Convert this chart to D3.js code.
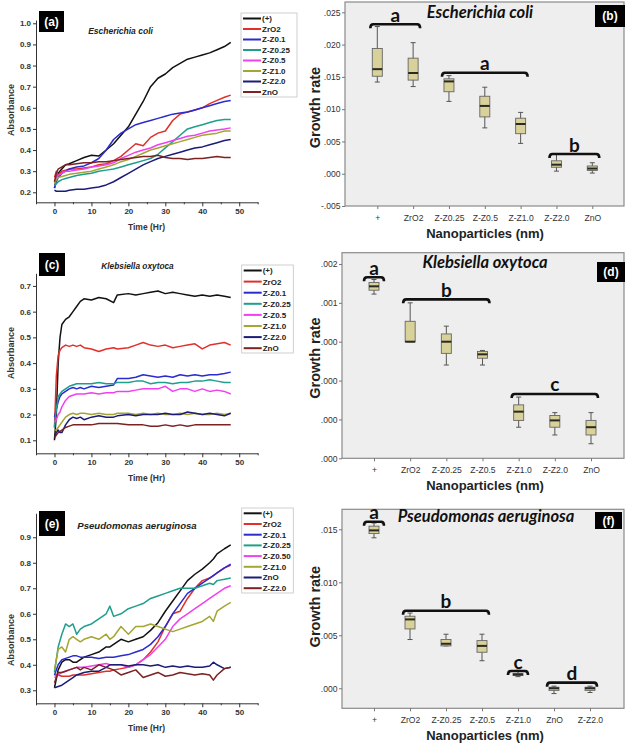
<!DOCTYPE html>
<html>
<head>
<meta charset="utf-8">
<script src="https://cdn.jsdelivr.net/npm/d3@7/dist/d3.min.js"></script>
<style>
html,body{margin:0;padding:0;background:#fff;}
svg{display:block;}
</style>
</head>
<body>
<svg id="chart" width="625" height="744"></svg>
<script>
// ================= DATA =================
// --- growth curves (left panels) ---
const lineNamesAC = ["(+)","ZrO2","Z-Z0.1","Z-Z0.25","Z-Z0.5","Z-Z1.0","Z-Z2.0","ZnO"];
const lineNamesE  = ["(+)","ZrO2","Z-Z0.1","Z-Z0.25","Z-Z0.50","Z-Z1.0","ZnO","Z-Z2.0"];
const timeTicks = [0,10,20,30,40,50];
const timeMinorTicks = [-5,5,15,25,35,45,55];

// (a) Escherichia coli
const timesA = [0,0.5,1,2,3,4,6,8,10,12,14,16,18,20,22,24,26,28,30,32,34,36,38,40,42,44,46,47.7];
const posA  = [0.22,0.27,0.29,0.31,0.33,0.335,0.35,0.365,0.375,0.372,0.40,0.43,0.47,0.51,0.57,0.63,0.70,0.74,0.76,0.79,0.81,0.83,0.84,0.85,0.86,0.875,0.89,0.91];
const zro2A = [0.27,0.30,0.28,0.30,0.305,0.31,0.31,0.315,0.32,0.33,0.335,0.35,0.37,0.40,0.43,0.42,0.46,0.48,0.49,0.54,0.57,0.58,0.59,0.60,0.62,0.635,0.65,0.66];
const z01A  = [0.22,0.25,0.27,0.29,0.30,0.31,0.32,0.325,0.34,0.36,0.40,0.45,0.48,0.50,0.52,0.53,0.54,0.55,0.56,0.57,0.575,0.58,0.59,0.60,0.61,0.62,0.63,0.635];
const z025A = [0.23,0.24,0.25,0.26,0.265,0.27,0.28,0.285,0.29,0.30,0.305,0.31,0.32,0.33,0.34,0.35,0.36,0.38,0.41,0.44,0.47,0.50,0.51,0.52,0.53,0.54,0.545,0.545];
const z05A  = [0.25,0.27,0.28,0.29,0.30,0.30,0.305,0.31,0.32,0.325,0.33,0.34,0.36,0.375,0.39,0.40,0.41,0.425,0.435,0.445,0.455,0.465,0.47,0.48,0.49,0.495,0.50,0.505];
const z10A  = [0.24,0.26,0.27,0.275,0.28,0.285,0.29,0.295,0.30,0.31,0.32,0.33,0.345,0.355,0.37,0.385,0.40,0.41,0.42,0.43,0.44,0.45,0.46,0.47,0.475,0.48,0.49,0.49];
const z20A  = [0.21,0.205,0.205,0.205,0.205,0.21,0.215,0.215,0.22,0.225,0.235,0.25,0.27,0.29,0.31,0.33,0.345,0.36,0.37,0.38,0.39,0.40,0.41,0.415,0.425,0.435,0.445,0.45];
const znoA  = [0.25,0.29,0.31,0.32,0.33,0.33,0.335,0.34,0.34,0.345,0.345,0.35,0.355,0.36,0.365,0.37,0.37,0.375,0.365,0.36,0.36,0.355,0.36,0.36,0.365,0.37,0.365,0.365];
const absTicksA = [0.2,0.3,0.4,0.5,0.6,0.7,0.8,0.9,1.0];

// (c) Klebsiella oxytoca
const timesC = [0,0.5,1,1.5,2,3,4,5,6,7,8,10,12,14,16,17,20,22,24,26,28,30,32,34,36,38,40,42,44,46,47.7];
const posC  = [0.10,0.20,0.40,0.50,0.55,0.57,0.58,0.60,0.62,0.64,0.65,0.645,0.655,0.65,0.635,0.665,0.67,0.665,0.67,0.675,0.68,0.67,0.675,0.67,0.665,0.66,0.665,0.66,0.665,0.66,0.655];
const zro2C = [0.15,0.35,0.43,0.45,0.46,0.47,0.465,0.47,0.465,0.47,0.46,0.455,0.445,0.455,0.46,0.455,0.46,0.47,0.48,0.47,0.465,0.47,0.46,0.465,0.47,0.475,0.455,0.47,0.475,0.48,0.47];
const z01C  = [0.19,0.22,0.25,0.27,0.28,0.29,0.30,0.305,0.30,0.305,0.30,0.31,0.305,0.31,0.315,0.34,0.34,0.345,0.355,0.35,0.345,0.35,0.345,0.355,0.35,0.355,0.35,0.355,0.355,0.36,0.365];
const z025C = [0.15,0.22,0.27,0.28,0.29,0.30,0.31,0.315,0.32,0.32,0.32,0.32,0.325,0.32,0.32,0.325,0.325,0.33,0.33,0.32,0.325,0.325,0.32,0.325,0.325,0.33,0.33,0.335,0.33,0.325,0.325];
const z05C  = [0.17,0.18,0.20,0.21,0.23,0.255,0.27,0.275,0.28,0.28,0.28,0.285,0.28,0.285,0.285,0.29,0.29,0.295,0.30,0.30,0.30,0.31,0.29,0.30,0.30,0.29,0.30,0.29,0.295,0.29,0.28];
const z10C  = [0.14,0.14,0.15,0.16,0.17,0.19,0.20,0.205,0.20,0.205,0.205,0.20,0.205,0.20,0.20,0.205,0.205,0.20,0.205,0.20,0.205,0.20,0.20,0.205,0.20,0.205,0.20,0.20,0.205,0.20,0.205];
const z20C  = [0.11,0.13,0.14,0.13,0.13,0.16,0.18,0.19,0.185,0.19,0.18,0.19,0.195,0.19,0.19,0.195,0.20,0.195,0.20,0.20,0.20,0.205,0.20,0.20,0.21,0.205,0.20,0.205,0.20,0.195,0.205];
const znoC  = [0.11,0.12,0.13,0.135,0.14,0.15,0.155,0.16,0.16,0.16,0.16,0.16,0.165,0.165,0.165,0.165,0.16,0.16,0.16,0.155,0.155,0.16,0.155,0.16,0.155,0.16,0.16,0.16,0.16,0.16,0.16];
const absTicksC = [0.1,0.2,0.3,0.4,0.5,0.6,0.7];

// (e) Pseudomonas aeruginosa
const timesE = [0,1,2,3,4,5,6,7,8,10,12,14,15,16,18,20,22,24,26,28,30,32,34,36,38,40,42,43,44,46,47.7];
const posE  = [0.31,0.38,0.41,0.42,0.42,0.41,0.41,0.42,0.43,0.44,0.45,0.47,0.47,0.48,0.50,0.49,0.50,0.51,0.535,0.565,0.61,0.65,0.69,0.73,0.755,0.775,0.80,0.815,0.835,0.855,0.87];
const zro2E = [0.36,0.36,0.355,0.355,0.355,0.36,0.36,0.36,0.36,0.365,0.37,0.375,0.375,0.38,0.385,0.39,0.40,0.42,0.45,0.49,0.55,0.60,0.61,0.66,0.70,0.73,0.74,0.75,0.76,0.78,0.79];
const z01E  = [0.36,0.40,0.42,0.425,0.43,0.435,0.435,0.43,0.43,0.43,0.425,0.43,0.43,0.43,0.435,0.44,0.45,0.46,0.48,0.51,0.55,0.60,0.64,0.68,0.70,0.72,0.74,0.75,0.76,0.78,0.795];
const z025E = [0.37,0.47,0.52,0.56,0.55,0.56,0.52,0.54,0.55,0.56,0.58,0.60,0.63,0.59,0.60,0.62,0.63,0.64,0.66,0.67,0.68,0.69,0.70,0.70,0.70,0.71,0.72,0.715,0.73,0.735,0.74];
const z05E  = [0.35,0.36,0.37,0.375,0.38,0.385,0.39,0.39,0.39,0.395,0.40,0.405,0.40,0.40,0.40,0.39,0.40,0.42,0.44,0.47,0.50,0.55,0.58,0.60,0.62,0.64,0.66,0.67,0.68,0.70,0.71];
const z10E  = [0.38,0.46,0.47,0.45,0.50,0.51,0.50,0.49,0.50,0.51,0.50,0.52,0.50,0.51,0.55,0.52,0.55,0.55,0.56,0.55,0.54,0.53,0.54,0.55,0.56,0.57,0.59,0.57,0.61,0.63,0.645];
const znoE  = [0.31,0.315,0.32,0.33,0.34,0.35,0.36,0.365,0.37,0.375,0.375,0.39,0.40,0.40,0.40,0.395,0.40,0.40,0.395,0.40,0.39,0.395,0.39,0.395,0.39,0.39,0.395,0.41,0.40,0.385,0.39];
const z20E  = [0.33,0.37,0.37,0.375,0.38,0.385,0.39,0.38,0.39,0.38,0.40,0.39,0.385,0.38,0.36,0.37,0.38,0.35,0.36,0.37,0.355,0.36,0.37,0.365,0.36,0.365,0.36,0.34,0.36,0.385,0.39];
const absTicksE = [0.3,0.4,0.5,0.6,0.7,0.8,0.9];

// --- growth-rate box plots (right panels): [min, q1, median, q3, max] ---
const catsB = ["+","ZrO2","Z-Z0.25","Z-Z0.5","Z-Z1.0","Z-Z2.0","ZnO"];
const boxB = [
  [0.0142,0.0151,0.0162,0.0194,0.0228],
  [0.0135,0.0145,0.0156,0.0179,0.0203],
  [0.0112,0.0127,0.0143,0.0147,0.0152],
  [0.0071,0.0088,0.0105,0.0120,0.0134],
  [0.0047,0.0062,0.0077,0.0086,0.0095],
  [0.0004,0.0010,0.0014,0.0020,0.0030],
  [0.0001,0.0005,0.0008,0.0012,0.0017]
];
const rateTicksB = [-0.005,0,0.005,0.010,0.015,0.020,0.025];
const rateLabelsB = ["-.005",".000",".005",".010",".015",".020",".025"];
const groupsB = [
  {letter:"a", from:"+", to:"ZrO2", level:0.02315},
  {letter:"a", from:"Z-Z0.25", to:"Z-Z1.0", level:0.01565},
  {letter:"b", from:"Z-Z2.0", to:"ZnO", level:0.00305}
];

const catsD = ["+","ZrO2","Z-Z0.25","Z-Z0.5","Z-Z1.0","Z-Z2.0","ZnO"];
const boxD = [
  [0.00169,0.00173,0.00177,0.00181,0.00184],
  [0.00120,0.00120,0.00120,0.00141,0.00160],
  [0.00096,0.00108,0.00120,0.00128,0.00136],
  [0.00096,0.00103,0.00107,0.00110,0.00111],
  [0.00032,0.00039,0.00048,0.00055,0.00063],
  [0.00024,0.00032,0.00039,0.00044,0.00047],
  [0.00015,0.00024,0.00032,0.00039,0.00047]
];
const rateTicksD = [0.0020,0.0016,0.0012,0.0008,0.0004,0.0000];
const rateLabelsD = [".002",".001",".000",".000",".000",".000"];
const groupsD = [
  {letter:"a", from:"+", to:"+", level:0.001863},
  {letter:"b", from:"ZrO2", to:"Z-Z0.5", level:0.001636},
  {letter:"c", from:"Z-Z1.0", to:"ZnO", level:0.000662}
];

const catsF = ["+","ZrO2","Z-Z0.25","Z-Z0.5","Z-Z1.0","ZnO","Z-Z2.0"];
const boxF = [
  [0.0142,0.0146,0.0149,0.0153,0.0156],
  [0.0046,0.0056,0.0065,0.0068,0.0071],
  [0.0040,0.0040,0.0042,0.0046,0.0051],
  [0.0026,0.0034,0.0040,0.0045,0.0051],
  [0.0011,0.0012,0.0013,0.0014,0.0017],
  [-0.0005,-0.0002,0.0000,0.0001,0.0002],
  [-0.0004,-0.0002,0.0000,0.0001,0.0002]
];
const rateTicksF = [0,0.005,0.010,0.015];
const rateLabelsF = [".000",".005",".010",".015"];
const groupsF = [
  {letter:"a", from:"+", to:"+", level:0.01572},
  {letter:"b", from:"ZrO2", to:"Z-Z0.5", level:0.00732},
  {letter:"c", from:"Z-Z1.0", to:"Z-Z1.0", level:0.00163},
  {letter:"d", from:"ZnO", to:"Z-Z2.0", level:0.00053}
];

// ================= STYLE =================
const lineColors = ["#111111","#e0302a","#2b2bd0","#1f9e8c","#f040f0","#a5a532","#1c1c78","#7b2222"];
const FONT = "'Liberation Sans', Arial, sans-serif";
const CAL = "Lato, 'Liberation Sans', sans-serif";
const svg = d3.select("#chart");

// ================= LINE PANELS =================
function drawLinePanel(p) {
  const g = svg.append("g");
  const x = d3.scaleLinear().domain([-5, 55]).range([36, 257.7]);
  const y = d3.scaleLinear().domain(p.yDomain).range(p.yRange);
  const line = d3.line().x((d, i) => x(p.times[i])).y(d => y(d)).curve(d3.curveLinear);

  p.series.forEach((s, i) => {
    g.append("path").attr("d", line(s)).attr("fill", "none")
      .attr("stroke", lineColors[i]).attr("stroke-width", 1.5)
      .attr("stroke-linejoin", "round");
  });

  const ya = g.append("g").attr("transform", "translate(36,0)")
    .call(d3.axisLeft(y).tickValues(p.yTicks).tickFormat(d3.format(".1f"))
      .tickSize(3).tickSizeOuter(0).tickPadding(2));
  const xa = g.append("g").attr("transform", `translate(0,${p.yRange[0]})`)
    .call(d3.axisBottom(x).tickValues(timeTicks).tickFormat(d3.format("d"))
      .tickSize(4).tickSizeOuter(0).tickPadding(2.5));
  g.append("g").attr("transform", `translate(0,${p.yRange[0]})`)
    .call(d3.axisBottom(x).tickValues(timeMinorTicks).tickFormat("").tickSize(2).tickSizeOuter(0))
    .select(".domain").remove();
  [ya, xa].forEach(a => {
    a.attr("font-family", FONT).attr("font-size", 8).attr("font-weight", "bold");
    a.selectAll("text").attr("fill", "#333");
  });
  g.selectAll(".domain, .tick line").attr("stroke", "#333").attr("stroke-width", 1);

  // axis titles
  g.append("text").attr("x", 146.5).attr("y", p.yRange[0] + 27.2)
    .attr("text-anchor", "middle").attr("font-family", FONT).attr("font-size", 8.5)
    .attr("font-weight", "bold").attr("fill", "#333").text("Time (Hr)");
  g.append("text").attr("transform", `translate(14,${p.absY}) rotate(-90)`)
    .attr("text-anchor", "middle").attr("font-family", FONT).attr("font-size", 9)
    .attr("font-weight", "bold").attr("fill", "#333").text("Absorbance");

  // panel label
  const lb = p.labelBox;
  g.append("rect").attr("x", lb[0]).attr("y", lb[1]).attr("width", lb[2]).attr("height", lb[3]).attr("fill", "#000");
  g.append("text").attr("x", lb[0] + lb[2] / 2).attr("y", lb[1] + lb[3] / 2 + 4.3)
    .attr("text-anchor", "middle").attr("font-family", FONT).attr("font-size", 12)
    .attr("font-weight", "bold").attr("fill", "#fff").text(p.label);

  // species
  g.append("text").attr("x", p.spX).attr("y", p.spY).attr("text-anchor", "middle")
    .attr("font-family", FONT).attr("font-size", p.spSize).attr("font-style", "italic")
    .attr("font-weight", "bold").attr("fill", "#222").text(p.species);

  // legend
  const L = p.legend;
  const lg = g.append("g");
  lg.append("rect").attr("x", L.x).attr("y", L.y).attr("width", L.w).attr("height", L.h)
    .attr("fill", "#fff").attr("stroke", "#c4c4c4").attr("stroke-width", 0.8);
  p.names.forEach((n, i) => {
    const yy = L.y0 + i * L.dy;
    lg.append("line").attr("x1", L.x + 2).attr("x2", L.x + 20).attr("y1", yy).attr("y2", yy)
      .attr("stroke", lineColors[i]).attr("stroke-width", 2);
    lg.append("text").attr("x", L.x + 21).attr("y", yy + 2.9).attr("font-family", FONT)
      .attr("font-size", 8).attr("font-weight", "bold").attr("fill", "#222").text(n);
  });
}

drawLinePanel({
  times: timesA, series: [posA, zro2A, z01A, z025A, z05A, z10A, z20A, znoA], names: lineNamesAC,
  yDomain: [0.1527, 1.0156], yRange: [202.3, 20], yTicks: absTicksA,
  label: "(a)", labelBox: [39, 11, 25, 21], species: "Escherichia coli", spX: 120.5, spY: 34, spSize: 8.5,
  legend: {x: 241, y: 13, w: 56, h: 84, y0: 18.5, dy: 10.5}, absY: 110
});
drawLinePanel({
  times: timesC, series: [posC, zro2C, z01C, z025C, z05C, z10C, z20C, znoC], names: lineNamesAC,
  yDomain: [0.0495, 0.749], yRange: [453.3, 273.3], yTicks: absTicksC,
  label: "(c)", labelBox: [39, 253, 26, 23], species: "Klebsiella oxytoca", spX: 137.5, spY: 269, spSize: 8.3,
  legend: {x: 241.7, y: 265, w: 51.6, h: 88, y0: 270.5, dy: 11.1}, absY: 353
});
drawLinePanel({
  times: timesE, series: [posE, zro2E, z01E, z025E, z05E, z10E, znoE, z20E], names: lineNamesE,
  yDomain: [0.249, 0.994], yRange: [703.3, 513.3], yTicks: absTicksE,
  label: "(e)", labelBox: [39, 511, 26, 25], species: "Pseudomonas aeruginosa", spX: 137, spY: 529, spSize: 9.6,
  legend: {x: 241.7, y: 508, w: 51.6, h: 85, y0: 513.3, dy: 10.7}, absY: 640
});

// ================= BOX PANELS =================
function drawBoxPanel(p) {
  const g = svg.append("g");
  const x = d3.scalePoint().domain(p.cats).range(p.xRange);
  const y = d3.scaleLinear().domain(p.yDomain).range(p.yRange);
  const top = p.yRange[1], bot = p.yRange[0];

  g.append("rect").attr("x", p.left).attr("y", top).attr("width", 624 - p.left).attr("height", bot - top)
    .attr("fill", "#eeeeee").attr("stroke", "#8a8a8a").attr("stroke-width", 1.2);

  const ya = g.append("g").attr("transform", `translate(${p.left},0)`)
    .call(d3.axisLeft(y).tickValues(p.yTicks).tickFormat(d => p.yTickLabels[p.yTicks.indexOf(d)])
      .tickSize(3).tickSizeOuter(0).tickPadding(1.5));
  ya.select(".domain").remove();
  const xa = g.append("g").attr("transform", `translate(0,${bot})`)
    .call(d3.axisBottom(x).tickSize(3).tickSizeOuter(0).tickPadding(5.5));
  xa.select(".domain").remove();
  [ya, xa].forEach(a => {
    a.attr("font-family", FONT).attr("font-size", 8.6);
    a.selectAll("text").attr("fill", "#333");
    a.selectAll(".tick line").attr("stroke", "#777");
  });

  // boxes
  const bw = 10;
  p.boxes.forEach((b, i) => {
    const cx = x(p.cats[i]);
    g.append("line").attr("x1", cx).attr("x2", cx).attr("y1", y(b[0])).attr("y2", y(b[4]))
      .attr("stroke", "#555").attr("stroke-width", 1);
    [b[0], b[4]].forEach(v => {
      g.append("line").attr("x1", cx - 2.5).attr("x2", cx + 2.5).attr("y1", y(v)).attr("y2", y(v))
        .attr("stroke", "#555").attr("stroke-width", 1);
    });
    g.append("rect").attr("x", cx - bw / 2).attr("y", y(b[3])).attr("width", bw)
      .attr("height", Math.max(1, y(b[1]) - y(b[3])))
      .attr("fill", "#d8d19a").attr("stroke", "#666").attr("stroke-width", 0.9);
    g.append("line").attr("x1", cx - bw / 2).attr("x2", cx + bw / 2).attr("y1", y(b[2])).attr("y2", y(b[2]))
      .attr("stroke", "#2a2a22").attr("stroke-width", 2);
  });

  // significance brackets
  p.groups.forEach(gr => {
    const pad = gr.from === gr.to ? 10 : 7;
    const x1 = x(gr.from) - pad, x2 = x(gr.to) + pad, yy = y(gr.level);
    g.append("path")
      .attr("d", `M${x1},${yy + 4} Q${x1},${yy} ${x1 + 3},${yy} L${x2 - 3},${yy} Q${x2},${yy} ${x2},${yy + 4}`)
      .attr("fill", "none").attr("stroke", "#111").attr("stroke-width", 2.6);
    g.append("text").attr("x", (x1 + x2) / 2).attr("y", yy - 2.5).attr("text-anchor", "middle")
      .attr("font-family", CAL).attr("font-size", 19).attr("font-weight", "bold").attr("fill", "#111")
      .text(gr.letter);
  });

  // title
  g.append("text").attr("x", p.titleX).attr("y", p.titleY).attr("text-anchor", "middle")
    .attr("font-family", CAL).attr("font-size", 16.5).attr("font-style", "italic").attr("font-weight", "bold")
    .attr("fill", "#111").text(p.title);

  // label box
  const lb = p.labelBox;
  g.append("rect").attr("x", lb[0]).attr("y", lb[1]).attr("width", lb[2]).attr("height", lb[3]).attr("fill", "#000");
  g.append("text").attr("x", lb[0] + lb[2] / 2).attr("y", lb[1] + lb[3] / 2 + 4.3)
    .attr("text-anchor", "middle").attr("font-family", FONT).attr("font-size", 12)
    .attr("font-weight", "bold").attr("fill", "#fff").text(p.label);

  // axis titles
  g.append("text").attr("x", 485).attr("y", p.xTitleY).attr("text-anchor", "middle")
    .attr("font-family", FONT).attr("font-size", 13).attr("font-weight", "bold").attr("fill", "#222")
    .text("Nanoparticles (nm)");
  g.append("text").attr("transform", `translate(320,${p.growthY}) rotate(-90)`).attr("text-anchor", "middle")
    .attr("font-family", FONT).attr("font-size", 14.5).attr("font-weight", "bold").attr("fill", "#222")
    .text("Growth rate");
}

drawBoxPanel({
  cats: catsB, boxes: boxB, groups: groupsB, left: 345, xRange: [377.3, 592.3],
  yDomain: [-0.005, 0.0266], yRange: [206, 2], yTicks: rateTicksB, yTickLabels: rateLabelsB,
  title: "Escherichia coli", titleX: 480, titleY: 18.3, label: "(b)", labelBox: [595, 5, 30, 22],
  xTitleY: 238, growthY: 107.5
});
drawBoxPanel({
  cats: catsD, boxes: boxD, groups: groupsD, left: 342, xRange: [374, 591],
  yDomain: [0, 0.002116], yRange: [458.3, 252.7], yTicks: rateTicksD, yTickLabels: rateLabelsD,
  title: "Klebsiella oxytoca", titleX: 485, titleY: 268.3, label: "(d)", labelBox: [597, 262, 28, 20],
  xTitleY: 490, growthY: 358
});
drawBoxPanel({
  cats: catsF, boxes: boxF, groups: groupsF, left: 342, xRange: [374, 590],
  yDomain: [-0.00189, 0.01689], yRange: [708.3, 509.3], yTicks: rateTicksF, yTickLabels: rateLabelsF,
  title: "Pseudomonas aeruginosa", titleX: 486, titleY: 522.3, label: "(f)", labelBox: [595, 512, 27, 17],
  xTitleY: 740, growthY: 606.7
});
</script>
</body>
</html>
